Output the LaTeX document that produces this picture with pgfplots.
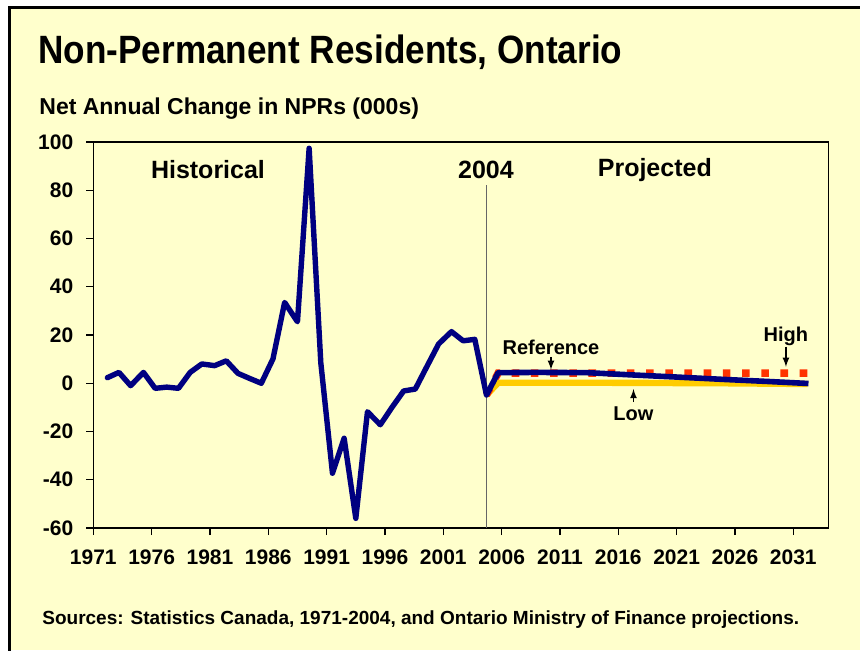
\documentclass[border=0pt]{standalone}
\usepackage{pgfplots}
\pgfplotsset{compat=1.18}
\usepackage{fontspec}
\setmainfont{Liberation Sans}
\newfontfamily\titlefont{Liberation Sans}[FakeStretch=0.89]
\definecolor{bgyellow}{HTML}{FFFFCC}
\definecolor{navy}{HTML}{000080}
\definecolor{hired}{HTML}{FF3300}
\definecolor{logold}{HTML}{FFCC00}
\begin{document}
\begin{tikzpicture}
\useasboundingbox (0pt,0pt) rectangle (430pt,325pt);
\fill[white] (0pt,0pt) rectangle (430pt,325pt);
\fill[bgyellow] (4.5pt,0pt) rectangle (430pt,321.5pt);
\draw[black,line width=1.5pt] (4.5pt,-3pt) -- (4.5pt,321.5pt) -- (433pt,321.5pt);
\node[anchor=base west,inner sep=0pt,font=\titlefont\bfseries\fontsize{19.75}{22}\selectfont] at (19pt,293.35pt) {Non-Permanent Residents, Ontario};
\node[anchor=base west,inner sep=0pt,font=\bfseries\fontsize{11.5}{13}\selectfont] at (19.5pt,267.85pt) {Net Annual Change in NPRs (000s)};
\node[anchor=west,inner sep=0pt,font=\bfseries\fontsize{9.5}{11}\selectfont] at (21pt,15pt) {Sources: Statistics Canada, 1971-2004, and Ontario Ministry of Finance projections.};
\begin{axis}[
  at={(46.65pt,61pt)}, anchor=south west,
  width=367.5pt, height=193pt, scale only axis,
  xmin=1971, xmax=2034, ymin=-60, ymax=100,
  xtick={1971,1976,1981,1986,1991,1996,2001,2006,2011,2016,2021,2026,2031},
  ytick={-60,-40,-20,0,20,40,60,80,100},
  xticklabels={1971,1976,1981,1986,1991,1996,2001,2006,2011,2016,2021,2026,2031},
  tick pos=left,
  tick align=outside, major tick length=3.5pt,
  tick style={black,line width=0.6pt},
  axis line style={black,line width=0.7pt},
  tick label style={font=\bfseries\fontsize{10.5}{12}\selectfont},
  /pgf/number format/assume math mode=true,
  xticklabel style={yshift=-4pt},
  yticklabel style={xshift=-3pt},
  axis background/.style={fill=bgyellow},
  clip=false,
]
% vertical 2004 line
\draw[gray!80!black,line width=0.7pt] (axis cs:2004.7,-60) -- (axis cs:2004.7,82.2);
% Low
\addplot[logold,line width=3.2pt,line join=round] coordinates {
(2004.7,-4.9)(2005.7,0.2)(2010,0.2)(2015,0.2)(2020,0.1)(2025,0.0)(2032.2,-0.3)};
% High
\addplot[hired,line width=3.7pt,dash pattern=on 3.8pt off 5.8pt] coordinates {
(2004.7,-4.9)(2005.7,4.2)(2010,4.2)(2015,4.2)(2020,4.2)(2025,4.2)(2032.2,4.2)};
% Reference
\addplot[navy,line width=2.8pt,line join=round] coordinates {
(2004.7,-4.9)(2005.7,4.4)(2009,4.5)(2013.3,4.4)(2017,3.5)(2021.3,2.5)(2025,1.6)(2029,0.7)(2032.3,-0.1)};
% Historical
\addplot[navy,line width=2.7pt,line join=round,line cap=round] coordinates {
(1972.2,2.3)(1973.2,4.5)(1974.2,-1.0)(1975.3,4.5)(1976.3,-2.1)(1977.3,-1.6)(1978.3,-2.1)
(1979.3,4.5)(1980.3,8.0)(1981.4,7.3)(1982.4,9.3)(1983.4,4.1)(1984.4,2.0)(1985.4,0.0)
(1986.4,10.1)(1987.4,33.5)(1988.5,25.5)(1989.5,97.4)(1990.5,8.5)(1991.5,-37.3)(1992.5,-22.8)
(1993.5,-56.0)(1994.5,-11.8)(1995.6,-17.2)(1996.6,-10.0)(1997.6,-3.2)(1998.6,-2.4)
(1999.6,7.0)(2000.6,16.3)(2001.7,21.4)(2002.7,17.6)(2003.7,18.2)(2004.7,-4.9)};
% annotations
\node[font=\bfseries\fontsize{12.5}{14}\selectfont] at (axis cs:1980.83,88.4) {Historical};
\node[font=\bfseries\fontsize{12.5}{14}\selectfont] at (axis cs:2004.66,88.4) {2004};
\node[font=\bfseries\fontsize{12.5}{14}\selectfont] at (axis cs:2019.13,88.4) {Projected};
\node[font=\bfseries\fontsize{10}{11}\selectfont] at (axis cs:2010.23,15.0) {Reference};
\draw[-latex,line width=0.6pt] (axis cs:2010.23,10.9) -- (axis cs:2010.23,5.6);
\node[font=\bfseries\fontsize{10}{11}\selectfont] at (axis cs:2030.37,19.6) {High};
\draw[-latex,line width=0.6pt] (axis cs:2030.37,15.2) -- (axis cs:2030.37,6.8);
\node[font=\bfseries\fontsize{10}{11}\selectfont] at (axis cs:2017.3,-12.7) {Low};
\draw[-latex,line width=0.6pt] (axis cs:2017.3,-7.8) -- (axis cs:2017.3,-2.4);
\end{axis}
\end{tikzpicture}
\end{document}
